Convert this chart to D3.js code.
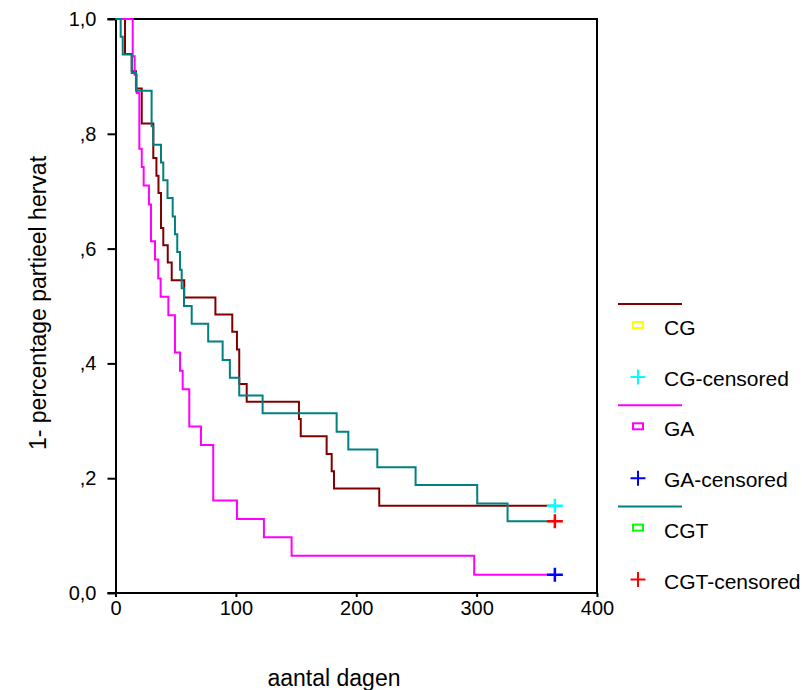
<!DOCTYPE html>
<html lang="nl">
<head>
	<meta http-equiv="Content-type" content="text/html" charset="UTF-8">
	<script src="https://d3js.org/d3.v7.min.js"></script>
	<style>
		html, body { margin: 0; padding: 0; background: #fff; }
		svg text { font-family: 'Liberation Sans', Arial, sans-serif; fill: #000; }
		.tick-label { font-size: 20px; }
		.axis-title { font-size: 23px; }
		.legend text { font-size: 21px; }
	</style>
</head>
<body>
<div id="chart"></div>
<script>

	// Kaplan-Meier steps: time (days) and survival after that step
	var groups = ['CG', 'GA', 'CGT'];

	var cgTimes = [7.9, 13.5, 17, 21.8, 31.4, 34, 35.7, 37.8, 39.7, 43.4, 46.7, 57.1, 83, 97, 100.9, 102.8, 109, 152.4, 153.9, 175.4, 179.6, 181.5, 219.1];
	var cgSurv  = [0.939, 0.909, 0.879, 0.818, 0.758, 0.727, 0.697, 0.636, 0.606, 0.576, 0.545, 0.515, 0.485, 0.455, 0.424, 0.364, 0.333, 0.303, 0.273, 0.242, 0.212, 0.182, 0.152];

	var gaTimes = [14.3, 15.9, 17.6, 19.8, 21.8, 23.4, 27.8, 29.5, 32.8, 35.5, 37.5, 43.9, 49.4, 53.6, 55.8, 61.3, 71, 81.2, 100.9, 123.3, 146.3, 298];
	var gaSurv  = [0.935, 0.903, 0.871, 0.774, 0.742, 0.710, 0.677, 0.613, 0.581, 0.548, 0.516, 0.484, 0.419, 0.387, 0.355, 0.290, 0.258, 0.161, 0.129, 0.097, 0.065, 0.032];

	var cgtTimes = [4.3, 6, 13.5, 17, 30, 31.4, 37.8, 39.7, 43.2, 47.5, 49.4, 51.3, 53.6, 55, 56.9, 63.3, 77, 89, 95, 102.8, 122.2, 183.7, 193.4, 217.5, 249.3, 300.5, 325.7];
	var cgtSurv  = [0.969, 0.938, 0.906, 0.875, 0.813, 0.781, 0.750, 0.719, 0.688, 0.656, 0.625, 0.594, 0.563, 0.531, 0.500, 0.469, 0.438, 0.406, 0.375, 0.344, 0.313, 0.281, 0.250, 0.219, 0.188, 0.156, 0.125];

	// last follow-up, where the censored marks sit
	var censorTime = [365, 365, 365];

	var xTicks = [0, 100, 200, 300, 400];
	var yTicks = [0, 0.2, 0.4, 0.6, 0.8, 1.0];

	var lineColors   = ['#800000', '#ff00ff', '#008080'];
	var markerColors = ['#ffff00', '#ff00ff', '#00ff00'];
	var censorColors = ['#00ffff', '#0000ff', '#ff0000'];

	var times = [cgTimes, gaTimes, cgtTimes];
	var surv  = [cgSurv, gaSurv, cgtSurv];

	var width = 802, height = 690;

	var svg = d3.select('#chart')
		.append('svg')
		.attr('width', width)
		.attr('height', height);

	var x = d3.scaleLinear().domain([0, 400]).range([115.5, 597]);
	var y = d3.scaleLinear().domain([0, 1]).range([593, 19]);

	function dutch(v) {
		if (v === 0) return '0,0';
		if (v === 1) return '1,0';
		return ',' + Math.round(v * 10);
	}

	// frame top and right
	svg.append('path')
		.attr('d', 'M' + (x(0) - 8) + ',' + y(1) + 'H' + x(400) + 'V' + y(0))
		.attr('fill', 'none')
		.attr('stroke', '#000')
		.attr('stroke-width', 2);

	// axes
	var xAxis = svg.append('g')
		.attr('transform', 'translate(0,' + y(0) + ')')
		.call(d3.axisBottom(x).tickValues(xTicks).tickSize(4).tickSizeOuter(0).tickFormat(d3.format('d')));

	var yAxis = svg.append('g')
		.attr('transform', 'translate(' + x(0) + ',0)')
		.call(d3.axisLeft(y).tickValues(yTicks).tickSize(8).tickSizeOuter(0).tickFormat(dutch));

	[xAxis, yAxis].forEach(function(a) {
		a.select('.domain').attr('stroke', '#000').attr('stroke-width', 2);
		a.selectAll('.tick line').attr('stroke', '#000').attr('stroke-width', 2);
		a.selectAll('.tick text').attr('class', 'tick-label').attr('font-size', null).attr('font-family', null);
	});
	xAxis.select('.domain').attr('d', 'M' + (x(0) - 8) + ',0H' + x(400));
	xAxis.selectAll('.tick text').attr('dy', '0.6em').attr('y', 10);
	yAxis.selectAll('.tick text').attr('x', -19);

	// axis titles
	svg.append('text')
		.attr('class', 'axis-title')
		.attr('x', 334)
		.attr('y', 686)
		.attr('text-anchor', 'middle')
		.text('aantal dagen');

	svg.append('text')
		.attr('class', 'axis-title')
		.attr('transform', 'translate(46,303) rotate(-90)')
		.attr('text-anchor', 'middle')
		.text('1- percentage partieel hervat');

	// survival curves
	var line = d3.line()
		.x(function(d) { return x(d[0]); })
		.y(function(d) { return y(d[1]); })
		.curve(d3.curveStepAfter);

	var plusPath = function(cx, cy, w, h) {
		return 'M' + (cx - w / 2) + ',' + cy + 'H' + (cx + w / 2) +
			'M' + cx + ',' + (cy - h / 2) + 'V' + (cy + h / 2);
	};

	groups.forEach(function(g, i) {
		var pts = [[0, 1]];
		times[i].forEach(function(t, j) { pts.push([t, surv[i][j]]); });
		var last = surv[i][surv[i].length - 1];
		pts.push([censorTime[i], last]);

		svg.append('path')
			.datum(pts)
			.attr('d', line)
			.attr('fill', 'none')
			.attr('stroke', lineColors[i])
			.attr('stroke-width', 2);
	});

	groups.forEach(function(g, i) {
		var last = surv[i][surv[i].length - 1];
		svg.append('path')
			.attr('d', plusPath(x(censorTime[i]), y(last), 16, 14))
			.attr('fill', 'none')
			.attr('stroke', censorColors[i])
			.attr('stroke-width', 2.5);
	});

	// legend
	var legend = svg.append('g')
		.attr('class', 'legend')
		.attr('transform', 'translate(618,304)');

	var legendGroup = legend.selectAll('.lg')
		.data(groups)
		.enter()
		.append('g')
		.attr('class', 'lg')
		.attr('transform', function(d, i) { return 'translate(0,' + (i * 101.3) + ')'; });

	legendGroup.append('line')
		.attr('x1', 0).attr('x2', 64)
		.attr('y1', 0).attr('y2', 0)
		.attr('stroke', function(d, i) { return lineColors[i]; })
		.attr('stroke-width', 2);

	legendGroup.append('rect')
		.attr('x', 15).attr('y', 18)
		.attr('width', 10).attr('height', 6)
		.attr('fill', 'none')
		.attr('stroke', function(d, i) { return markerColors[i]; })
		.attr('stroke-width', 2);

	legendGroup.append('text')
		.attr('x', 46)
		.attr('y', 31)
		.text(function(d) { return d; });

	legendGroup.append('path')
		.attr('d', plusPath(20, 73, 15, 15))
		.attr('fill', 'none')
		.attr('stroke', function(d, i) { return censorColors[i]; })
		.attr('stroke-width', 2);

	legendGroup.append('text')
		.attr('x', 46)
		.attr('y', 82)
		.text(function(d) { return d + '-censored'; });

</script>
</body>
</html>
